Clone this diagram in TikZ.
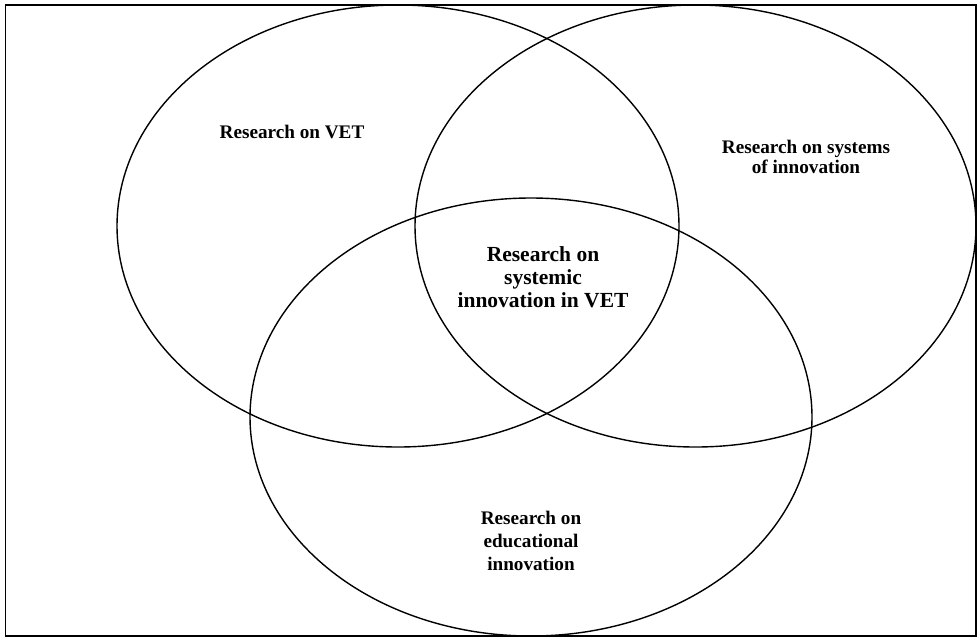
\documentclass[tikz,border=0pt]{standalone}
\usepackage{fontspec}
\setmainfont{Liberation Serif}
\usetikzlibrary{shapes.geometric}
\begin{document}
\begin{tikzpicture}[x=1pt, y=-1pt,
			set node/.style={ellipse,draw,line width=1.4pt,inner sep=0pt,minimum width=562pt,minimum height=442pt},
			label node/.style={align=center,font=\fontsize{19.2}{20}\selectfont\bfseries},
			core node/.style={align=center,font=\fontsize{21.5}{23}\selectfont\bfseries}]
			
			\useasboundingbox (0,0) rectangle (977,638);
			\draw[line width=1.2pt] (5.5,5) rectangle (976,636);
			
			\node[set node] (vet) at (398,226) {};
			\node[set node,minimum width=561pt] (sys) at (695.5,226) {};
			\node[set node,minimum height=438pt] (edu) at (531,417) {};
			
			\node[label node] (vetlabel) at (292,132) {Research on VET};
			\node[label node] (syslabel) at (806,157) {Research on systems\\of innovation};
			\node[core node] (corelabel) at (543,277) {Research on\\systemic\\innovation in VET};
			\node[label node,font=\fontsize{19.2}{23}\selectfont\bfseries] (edulabel) at (531,541) {Research on\\educational\\innovation};
			
			\end{tikzpicture}
\end{document}
